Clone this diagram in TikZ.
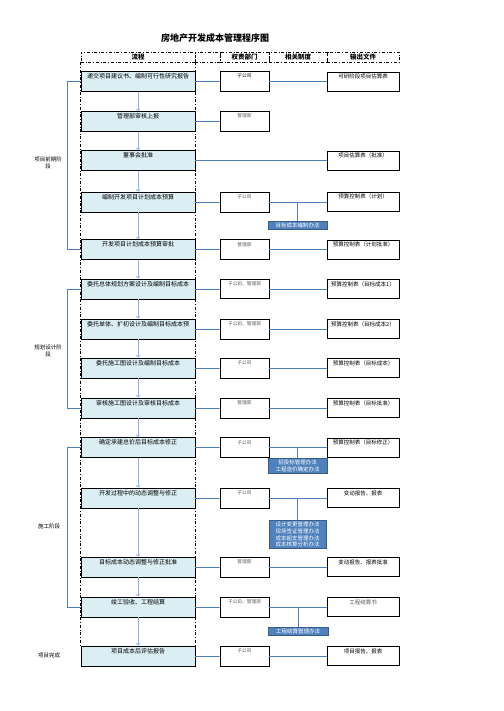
\documentclass[tikz,border=0pt]{standalone}
\usepackage{fontspec}
\setmainfont{Noto Sans CJK SC}
\usetikzlibrary{arrows.meta}
\definecolor{flowfill}{HTML}{DAEEF3}
\definecolor{linkblue}{HTML}{4F81BD}
\definecolor{arrowblue}{HTML}{8EB4E3}
\definecolor{rulefill}{HTML}{4F81BD}
\definecolor{ruleedge}{HTML}{385D8A}
\definecolor{depttext}{HTML}{595959}

\begin{document}
\begin{tikzpicture}[x=1pt,y=-1pt,
  flowbox/.style={draw,line width=0.8pt,fill=flowfill,minimum width=114pt,minimum height=20pt,inner sep=1.5pt,text height=5.5pt,text depth=11pt,font=\fontsize{6}{7}\selectfont},
  deptbox/.style={draw,line width=0.8pt,fill=white,minimum width=49pt,minimum height=20pt,inner sep=1.5pt,text height=4.5pt,text depth=11.5pt,text=depttext,font=\fontsize{4.7}{5.5}\selectfont},
  outbox/.style={draw,line width=0.8pt,fill=white,minimum width=72pt,minimum height=19pt,inner sep=1.5pt,text height=5pt,text depth=11pt,font=\fontsize{5.5}{6.5}\selectfont},
  rulebox/.style={draw=ruleedge,line width=0.8pt,fill=rulefill,text=white,align=center,minimum width=59pt,inner sep=1.5pt,font=\fontsize{5.5}{6.8}\selectfont},
  headbox/.style={draw,dash dot,line width=0.7pt,minimum height=10pt,inner sep=0pt,font=\bfseries\fontsize{6.5}{7}\selectfont},
  link/.style={draw=linkblue,line width=0.7pt},
  flowarrow/.style={draw=arrowblue,line width=0.8pt,-{To[length=2.5pt,width=4pt]}},
  phase/.style={align=center,font=\fontsize{5.5}{7}\selectfont}]
\useasboundingbox (0,0) rectangle (503,711);

% title and header
\node[font=\bfseries\fontsize{9}{10}\selectfont] (title) at (215,38) {房地产开发成本管理程序图};
\node[headbox,minimum width=114pt] (hflow) at (138,57) {流程};
\node[headbox,minimum width=25pt] (hblank) at (207.5,57) {};
\node[headbox,minimum width=49pt] (hdept) at (244.5,57) {权责部门};
\node[headbox,minimum width=58pt] (hrule) at (298,57) {相关制度};
\node[headbox,minimum width=72pt] (hout) at (363,57) {输出文件};

% flow column
\node[flowbox] (f14) at (138,656) {项目成本后评估报告};
\draw[dash dot,line width=0.6pt] (hflow.south west) -- (hflow.south west |- f14.north);
\draw[dash dot,line width=0.6pt] (hflow.south east) -- (hflow.south east |- f14.north);
\node[flowbox] (f1) at (138,81.5) {递交项目建议书、编制可行性研究报告};
\node[flowbox] (f2) at (138,121.5) {管理部审核上报};
\node[flowbox] (f3) at (138,160.5) {董事会批准};
\node[flowbox] (f4) at (138,202) {编制开发项目计划成本预算};
\node[flowbox] (f5) at (138,249.5) {开发项目计划成本预算审批};
\node[flowbox] (f6) at (138,289) {委托总体规划方案设计及编制目标成本};
\node[flowbox] (f7) at (138,329) {委托单体、扩初设计及编制目标成本预};
\node[flowbox] (f8) at (138,368) {委托施工图设计及编制目标成本};
\node[flowbox] (f9) at (138,408) {审核施工图设计及审核目标成本};
\node[flowbox] (f10) at (138,447.5) {确定承建总价后目标成本修正};
\node[flowbox] (f11) at (138,498) {开发过程中的动态调整与修正};
\node[flowbox] (f12) at (138,567) {目标成本动态调整与修正批准};
\node[flowbox] (f13) at (138,607) {竣工验收、工程结算};

\draw[flowarrow] (f1) -- (f2);
\draw[flowarrow] (f2) -- (f3);
\draw[flowarrow] (f3) -- (f4);
\draw[flowarrow] (f4) -- (f5);
\draw[flowarrow] (f5) -- (f6);
\draw[flowarrow] (f6) -- (f7);
\draw[flowarrow] (f7) -- (f8);
\draw[flowarrow] (f8) -- (f9);
\draw[flowarrow] (f9) -- (f10);
\draw[flowarrow] (f10) -- (f11);
\draw[flowarrow] (f11) -- (f12);
\draw[flowarrow] (f12) -- (f13);
\draw[flowarrow] (f13) -- (f14);

% departments
\node[deptbox,text=black] (d1) at (244.5,81.5) {子公司};
\node[deptbox] (d2) at (244.5,121.5) {管理部};
\node[deptbox] (d4) at (244.5,202) {子公司};
\node[deptbox] (d5) at (244.5,249.5) {管理部};
\node[deptbox,minimum height=17pt] (d6) at (244.5,289) {子公司、管理部};
\node[deptbox] (d7) at (244.5,329) {子公司、管理部};
\node[deptbox] (d8) at (244.5,368) {子公司};
\node[deptbox] (d9) at (244.5,408) {管理部};
\node[deptbox] (d10) at (244.5,447.5) {子公司};
\node[deptbox] (d11) at (244.5,498) {子公司};
\node[deptbox] (d12) at (244.5,567) {管理部};
\node[deptbox] (d13) at (244.5,607) {子公司、管理部};
\node[deptbox] (d14) at (244.5,656) {子公司};

% output files
\node[outbox] (o1) at (363,81.5) {可研阶段项目估算表};
\node[outbox] (o3) at (363,160.5) {项目估算表（批准）};
\node[outbox] (o4) at (363,202) {预算控制表（计划）};
\node[outbox] (o5) at (363,249.5) {预算控制表（计划批准）};
\node[outbox] (o6) at (363,289) {预算控制表（目标成本1）};
\node[outbox] (o7) at (363,329) {预算控制表（目标成本2）};
\node[outbox] (o8) at (363,368) {预算控制表（目标成本）};
\node[outbox] (o9) at (363,408) {预算控制表（目标批准）};
\node[outbox] (o10) at (363,447.5) {预算控制表（目标修正）};
\node[outbox] (o11) at (363,498) {变动报告、报表};
\node[outbox] (o12) at (363,567) {变动报告、报表批准};
\node[outbox,text=depttext] (o13) at (363,607) {工程结算书};
\node[outbox] (o14) at (363,656) {项目报告、报表};

% rules
\node[rulebox] (p4) at (297.5,225) {目标成本编制办法};
\node[rulebox] (p10) at (297.5,466) {招投标管理办法\\工程造价确定办法};
\node[rulebox,minimum width=57pt] (p11) at (297.5,534.5) {设计变更管理办法\\现场签证管理办法\\成本超支管理办法\\成本核算分析办法};
\node[rulebox,minimum width=60pt] (p13) at (298,631) {工程结算管理办法};

% connectors
\draw[link] (f1.east) -- (d1.west);
\draw[link] (d1.east) -- (o1.west);
\draw[link] (f2.east) -- (d2.west);
\draw[link] (f3.east) -- (o3.west);
\draw[link] (f4.east) -- (d4.west);
\draw[link] (d4.east) -- (o4.west);
\draw[link] (f5.east) -- (d5.west);
\draw[link] (d5.east) -- (o5.west);
\draw[link] (f6.east) -- (d6.west);
\draw[link] (d6.east) -- (o6.west);
\draw[link] (f7.east) -- (d7.west);
\draw[link] (d7.east) -- (o7.west);
\draw[link] (f8.east) -- (d8.west);
\draw[link] (d8.east) -- (o8.west);
\draw[link] (f9.east) -- (d9.west);
\draw[link] (d9.east) -- (o9.west);
\draw[link] (f10.east) -- (d10.west);
\draw[link] (d10.east) -- (o10.west);
\draw[link] (f11.east) -- (d11.west);
\draw[link] (d11.east) -- (o11.west);
\draw[link] (f12.east) -- (d12.west);
\draw[link] (d12.east) -- (o12.west);
\draw[link] (f13.east) -- (d13.west);
\draw[link] (d13.east) -- (o13.west);
\draw[link] (f14.east) -- (d14.west);
\draw[link] (d14.east) -- (o14.west);
\draw[link] (p4.north) -- (p4.north |- d4.east);
\draw[link] (p10.north) -- (p10.north |- d10.east);
\draw[link] (p11.north) -- (p11.north |- d11.east);
\draw[link] (p13.north) -- (p13.north |- d13.east);

% phases
\draw[link] (f1.west) -- ++(-13,0) |- (f5.west);
\draw[link] (f6.west) -- ++(-13,0) |- (f9.west);
\draw[link] (f10.west) -- ++(-13,0) |- (f13.west);
\node[phase] (ph1) at (48,163) {项目前期阶\\段};
\node[phase] (ph2) at (48,351) {规划设计阶\\段};
\node[phase] (ph3) at (49,526) {施工阶段};
\node[phase] (ph4) at (49,655) {项目完成};
\end{tikzpicture}
\end{document}
